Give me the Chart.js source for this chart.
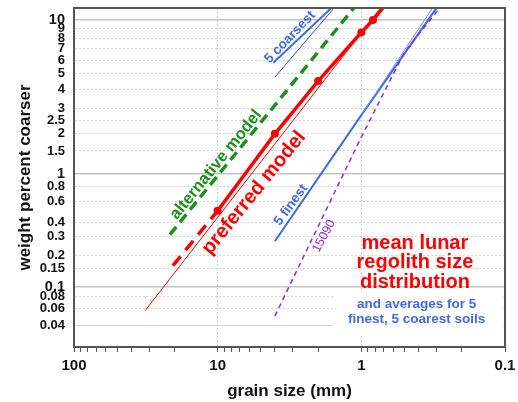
<!DOCTYPE html>
<html>
<head>
<meta charset="utf-8">
<script src="https://cdn.jsdelivr.net/npm/chart.js@4.4.1/dist/chart.umd.min.js"></script>
<style>
  html, body { margin: 0; padding: 0; background: #fff; }
  #wrap { width: 518px; height: 402px; }
</style>
</head>
<body>
<div id="wrap"><canvas id="chart" width="518" height="402"></canvas></div>
<script>
// --- data: grain size (mm) vs weight percent coarser --- //
const preferredSize = [10, 4, 2, 1, 0.83, 0.71];
const preferredPct = [0.5, 2.0, 4.5, 8.6, 10, 11.5];
const preferredDots = [1, 1, 1, 1, 1, 0]; // which points carry a marker
const preferredExtSize = [20.5, 10];
const preferredExtPct = [0.16, 0.5];
const preferredThinSize = [32, 0.735];
const preferredThinPct = [0.057, 11.5];
const alternativeSize = [21.5, 1.13];
const alternativePct = [0.31, 11.5];
const coarsestSize = [4.1, 1.62];
const coarsestPct = [5.8, 11.5];
const coarsestThinSize = [4.0, 1.55];
const coarsestThinPct = [4.75, 11.5];
const finestSize = [4, 1, 0.3];
const finestPct = [0.27, 2.7, 11.5];
const finestThinSize = [1, 0.32];
const finestThinPct = [2.7, 11.5];
const soil15090Size = [4, 1, 0.5, 0.285];
const soil15090Pct = [0.05, 1.9, 6.7, 11.5];

// --- axes --- //
const xTickValues = [100, 90, 80, 70, 60, 50, 40, 30, 20,
                     10, 9, 8, 7, 6, 5, 4, 3, 2,
                     1, 0.9, 0.8, 0.7, 0.6, 0.5, 0.4, 0.3, 0.2, 0.1];
const xLabelValues = [100, 10, 1, 0.1];
const xLabelText = ['100', '10', '1', '0.1'];
const xGridValues = [10, 1];

const yTickValues = [10, 9, 8, 7, 6, 5, 4, 3, 2.5, 2, 1.5, 1, 0.8, 0.6, 0.4, 0.3, 0.2, 0.15, 0.1, 0.08, 0.06, 0.04];
const yTickLabels = ['10', '9', '8', '7', '6', '5', '4', '3', '2.5', '2', '1.5', '1', '0.8', '0.6', '0.4', '0.3', '0.2', '0.15', '0.1', '0.08', '0.06', '0.04'];
const yMajorValues = [10, 1, 0.1];
const ySolidValues = [10, 1, 0.1, 0.04];
const yAxisMin = 0.02326; // probit -3.5
const yAxisMax = 11.507;  // probit -1.2

const FONT = '"Liberation Sans", Arial, sans-serif';

// inverse normal cdf (Acklam)
function probit(p) {
    const a = [-3.969683028665376e+01, 2.209460984245205e+02, -2.759285104469687e+02, 1.383577518672690e+02, -3.066479806614716e+01, 2.506628277459239e+00];
    const b = [-5.447609879822406e+01, 1.615858368580409e+02, -1.556989798598866e+02, 6.680131188771972e+01, -1.328068155288572e+01];
    const c = [-7.784894002430293e-03, -3.223964580411365e-01, -2.400758277161838e+00, -2.549732539343734e+00, 4.374664141464968e+00, 2.938163982698783e+00];
    const d = [7.784695709041462e-03, 3.224671290700398e-01, 2.445134137142996e+00, 3.754408661907416e+00];
    const pl = 0.02425;
    if (p < pl) {
        const q = Math.sqrt(-2 * Math.log(p));
        return (((((c[0] * q + c[1]) * q + c[2]) * q + c[3]) * q + c[4]) * q + c[5]) / ((((d[0] * q + d[1]) * q + d[2]) * q + d[3]) * q + 1);
    }
    if (p <= 1 - pl) {
        const q = p - 0.5, r = q * q;
        return (((((a[0] * r + a[1]) * r + a[2]) * r + a[3]) * r + a[4]) * r + a[5]) * q / (((((b[0] * r + b[1]) * r + b[2]) * r + b[3]) * r + b[4]) * r + 1);
    }
    const q = Math.sqrt(-2 * Math.log(1 - p));
    return -(((((c[0] * q + c[1]) * q + c[2]) * q + c[3]) * q + c[4]) * q + c[5]) / ((((d[0] * q + d[1]) * q + d[2]) * q + d[3]) * q + 1);
}

function normCdf(z) {
    const t = 1 / (1 + 0.2316419 * Math.abs(z));
    const y = 0.3989423 * Math.exp(-z * z / 2) * t * (0.3193815 + t * (-0.3565638 + t * (1.781478 + t * (-1.821256 + t * 1.330274))));
    return z > 0 ? 1 - y : y;
}

// probability (probit) axis for percentages
class ProbitScale extends Chart.Scale {
    static id = 'probit';
    static defaults = {};
    determineDataLimits() {
        this.min = this.options.min;
        this.max = this.options.max;
    }
    buildTicks() {
        return yTickValues.map(v => ({ value: v, major: yMajorValues.includes(v) }));
    }
    configure() {
        super.configure();
        this._zMin = probit(this.min / 100);
        this._zMax = probit(this.max / 100);
    }
    getLabelForValue(v) { return String(v); }
    getPixelForValue(v) {
        const z = probit(v / 100);
        return this.getPixelForDecimal((z - this._zMin) / (this._zMax - this._zMin));
    }
    getValueForPixel(px) {
        return 100 * normCdf(this._zMin + this.getDecimalForPixel(px) * (this._zMax - this._zMin));
    }
}
Chart.register(ProbitScale);

// text notes, placed in data coordinates
const notes = [
    { lines: ['alternative model'], x: 10.27, y: 1.18, angle: -51, color: '#1f8f1f', font: 'bold 16.5px ' + FONT },
    { lines: ['preferred model'], x: 5.59, y: 0.707, angle: -51, color: '#ff0000', font: 'bold 20px ' + FONT },
    { lines: ['5 coarsest'], x: 3.14, y: 8.1, angle: -46, color: '#3f6be0', font: 'bold 13.5px ' + FONT },
    { lines: ['5 finest'], x: 3.09, y: 0.56, angle: -54, color: '#3f6be0', font: 'bold 13.5px ' + FONT },
    { lines: ['15090'], x: 1.82, y: 0.30, angle: -62, color: '#8a2be2', font: '12.5px ' + FONT },
    { lines: ['mean lunar', 'regolith size', 'distribution'], x: 0.4236, y: 0.26, angle: 0, lineHeight: 19.7, color: '#ff0000', font: 'bold 20px ' + FONT },
    { lines: ['and averages for 5', 'finest, 5 coarest soils'], x: 0.412, y: 0.0658, angle: 0, lineHeight: 14.3, color: '#3f6be0', font: 'bold 13.5px ' + FONT }
];
const noteBox = { x1: 1.576, x2: 0.103, y1: 0.0912, y2: 0.0324 };

const notesPlugin = {
    id: 'notes',
    beforeDatasetsDraw(chart) {
        const { ctx, scales: { x, y } } = chart;
        const l = x.getPixelForValue(noteBox.x1), r = x.getPixelForValue(noteBox.x2);
        const t = y.getPixelForValue(noteBox.y1), b = y.getPixelForValue(noteBox.y2);
        ctx.save();
        ctx.fillStyle = '#ffffff';
        ctx.fillRect(l, t, r - l, b - t);
        ctx.restore();
    },
    afterDatasetsDraw(chart) {
        const { ctx, scales: { x, y }, chartArea: a } = chart;
        notes.forEach(n => {
            const px = x.getPixelForValue(n.x);
            const py = y.getPixelForValue(n.y);
            ctx.save();
            ctx.translate(px, py);
            ctx.rotate(n.angle * Math.PI / 180);
            ctx.font = n.font;
            ctx.fillStyle = n.color;
            ctx.textAlign = 'center';
            ctx.textBaseline = 'middle';
            n.lines.forEach((line, i) => ctx.fillText(line, 0, i * (n.lineHeight || 0)));
            ctx.restore();
        });
        // frame on top and right
        ctx.save();
        ctx.strokeStyle = '#555';
        ctx.lineWidth = 2;
        ctx.beginPath();
        ctx.moveTo(a.left, a.top);
        ctx.lineTo(a.right, a.top);
        ctx.lineTo(a.right, a.bottom);
        ctx.stroke();
        ctx.restore();
    }
};

const pts = (xs, ys) => xs.map((v, i) => ({ x: v, y: ys[i] }));

const ctx = document.getElementById('chart').getContext('2d');
new Chart(ctx, {
    type: 'line',
    data: {
        datasets: [
            { label: '15090', data: pts(soil15090Size, soil15090Pct), borderColor: '#8a2be2', borderWidth: 1.5, borderDash: [5, 4] },
            { label: '5 finest thin', data: pts(finestThinSize, finestThinPct), borderColor: '#6b8ff0', borderWidth: 1 },
            { label: '5 finest', data: pts(finestSize, finestPct), borderColor: '#3f6be0', borderWidth: 2 },
            { label: '5 coarsest thin', data: pts(coarsestThinSize, coarsestThinPct), borderColor: '#4646a8', borderWidth: 1 },
            { label: '5 coarsest', data: pts(coarsestSize, coarsestPct), borderColor: '#3f6be0', borderWidth: 2 },
            { label: 'alternative model', data: pts(alternativeSize, alternativePct), borderColor: '#1f8f1f', borderWidth: 3.5, borderDash: [10, 6] },
            { label: 'preferred thin', data: pts(preferredThinSize, preferredThinPct), borderColor: '#ff0000', borderWidth: 1 },
            { label: 'preferred extension', data: pts(preferredExtSize, preferredExtPct), borderColor: '#ff0000', borderWidth: 3.5, borderDash: [12, 8] },
            {
                label: 'preferred model', data: pts(preferredSize, preferredPct), borderColor: '#ff0000', borderWidth: 3.5,
                pointRadius: preferredDots.map(d => d ? 4 : 0), pointBackgroundColor: '#ff0000', pointBorderWidth: 0
            }
        ]
    },
    options: {
        responsive: false,
        animation: false,
        events: [],
        layout: { padding: { top: 8, right: 13, left: 0, bottom: 0 } },
        elements: { point: { radius: 0 }, line: { tension: 0, fill: false } },
        plugins: { legend: { display: false }, tooltip: { enabled: false } },
        scales: {
            x: {
                type: 'logarithmic', position: 'bottom', reverse: true, min: 0.1, max: 100,
                afterBuildTicks: s => { s.ticks = xTickValues.map(v => ({ value: v })); },
                afterFit: s => { s.height = 55; s.paddingLeft = 0; s.paddingRight = 0; },
                ticks: {
                    autoSkip: false, maxRotation: 0, minRotation: 0, padding: 5, color: '#111',
                    font: { size: 15, weight: 'bold' },
                    callback: v => { const i = xLabelValues.indexOf(v); return i < 0 ? '' : xLabelText[i]; }
                },
                grid: {
                    color: c => (c.tick && xGridValues.includes(c.tick.value)) ? '#cfcfcf' : 'rgba(0,0,0,0)',
                    lineWidth: 1, tickColor: '#555', tickLength: 5, tickWidth: 1
                },
                border: { color: '#555', width: 2, dash: c => c.tick ? [2, 2] : [] },
                title: { display: true, text: 'grain size (mm)', color: '#111', font: { size: 17, weight: 'bold' }, padding: { top: 0, bottom: 0 } }
            },
            y: {
                type: 'probit', position: 'left', min: yAxisMin, max: yAxisMax,
                afterFit: s => { s.width = 74; s.paddingTop = 0; s.paddingBottom = 0; },
                ticks: {
                    autoSkip: false, padding: 9, color: '#111',
                    font: c => ({ size: (c.tick && yMajorValues.includes(c.tick.value)) ? 14.5 : 13, weight: 'bold' }),
                    callback: v => yTickLabels[yTickValues.indexOf(v)]
                },
                grid: {
                    drawTicks: false,
                    color: c => {
                        if (!c.tick) return '#cccccc';
                        if (yMajorValues.includes(c.tick.value)) return '#c4c4c4';
                        if (ySolidValues.includes(c.tick.value)) return '#d6d6d6';
                        return '#d4d4d4';
                    },
                    lineWidth: c => (c.tick && yMajorValues.includes(c.tick.value)) ? 1.5 : 1
                },
                border: { color: '#555', width: 2, dash: c => (c.tick && !ySolidValues.includes(c.tick.value)) ? [2, 2] : [] },
                title: { display: true, text: 'weight percent coarser', color: '#111', font: { size: 17, weight: 'bold' }, padding: { top: 15, bottom: 0 } }
            }
        }
    },
    plugins: [notesPlugin]
});
</script>
</body>
</html>
